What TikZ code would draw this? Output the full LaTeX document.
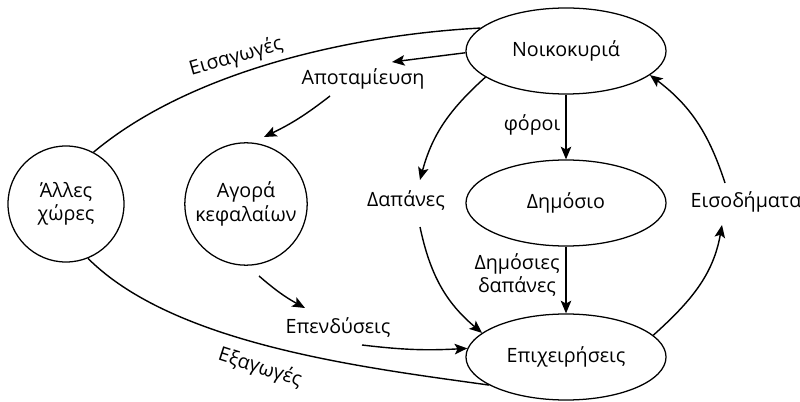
\documentclass[tikz,border=0pt]{standalone}
\usepackage{fontspec}
\setmainfont{Open Sans}
\usetikzlibrary{arrows.meta,shapes.geometric}

\begin{document}
\begin{tikzpicture}[x=0.025cm,y=0.025cm,
  sector/.style={draw,ellipse,line width=0.9pt,minimum width=5cm,minimum height=2.15cm,font=\fontsize{14}{16.5}\selectfont},
  market/.style={draw,circle,line width=0.9pt,minimum size=2.9cm,align=center,font=\fontsize{14}{16.5}\selectfont},
  flowlabel/.style={inner sep=1pt,align=center,font=\fontsize{14}{16.5}\selectfont},
  flow/.style={line width=1pt,-{Stealth[length=9pt,width=7.5pt,inset=2pt]}},
  trade/.style={line width=1pt}]

\useasboundingbox (0,0) rectangle (800,401);

% Define the sectors
\node[sector] (house) at (566,350) {Νοικοκυριά};
\node[sector] (public) at (566,198) {Δημόσιο};
\node[sector] (firms) at (566,44) {Επιχειρήσεις};
\node[market] (abroad) at (66,197) {Άλλες\\χώρες};
\node[market] (capital) at (246,197) {Αγορά\\κεφαλαίων};

% Add the flow labels
\node[flowlabel] (save) at (363,322) {Αποταμίευση};
\node[flowlabel] (tax) at (532,276) {φόροι};
\node[flowlabel] (spend) at (406,201) {Δαπάνες};
\node[flowlabel] (income) at (746,199) {Εισοδήματα};
\node[flowlabel] (pubspend) at (517,126) {Δημόσιες\\δαπάνες};
\node[flowlabel] (invest) at (338,74) {Επενδύσεις};
\node[flowlabel,rotate=16] (imports) at (236,344) {Εισαγωγές};
\node[flowlabel,rotate=-18] (exports) at (260,33) {Εξαγωγές};

% Draw the trade curves (no arrows)
\draw[trade] (abroad.62) to[out=40,in=183,looseness=0.8] (house.165);
\draw[trade] (abroad.-68) to[out=-45,in=172,looseness=0.75] (firms.200);

% Draw the savings and investment flows
\draw[flow] (house.181) -- ([shift={(29,17)}]save.center);
\draw[flow] ([shift={(-33,-17)}]save.center) to[bend left=6] ([shift={(18,67)}]capital.center);
\draw[flow] ([shift={(13,-72)}]capital.center) to[bend right=6] ([shift={(-33,19)}]invest.center);
\draw[flow] ([shift={(24,-18)}]invest.center) to[bend right=5] (firms.175);

% Draw the household and firm flows
\draw[flow] (house.198) to[out=222,in=75] ([shift={(14,20)}]spend.center);
\draw[flow] ([shift={(14,-27)}]spend.center) to[out=-78,in=140] (firms.164);
\draw[flow] (house.south) -- (public.north);
\draw[flow] (public.south) -- (firms.north);
\draw[flow] (firms.14) to[out=42,in=-100] ([shift={(-24,-23)}]income.center);
\draw[flow] ([shift={(-21,19)}]income.center) to[out=108,in=-37] (house.-16);

\end{tikzpicture}
\end{document}
